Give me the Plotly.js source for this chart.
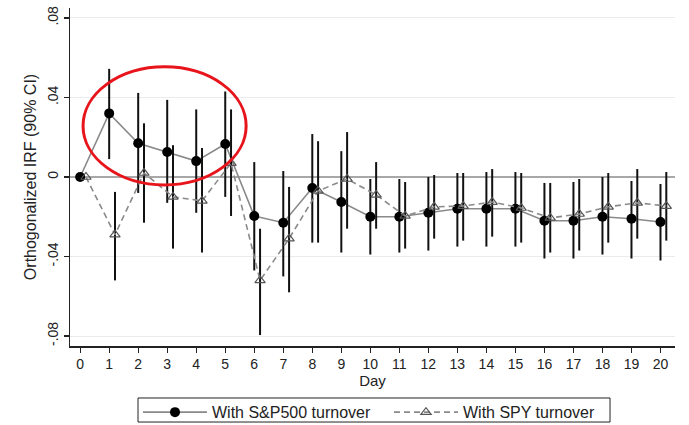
<!DOCTYPE html>
<html>
<head>
<meta charset="utf-8">
<script src="https://cdn.plot.ly/plotly-3.0.1.min.js"></script>
<style>
  html, body { margin: 0; padding: 0; background: #ffffff; }
  #chart { width: 689px; height: 425px; }
</style>
</head>
<body>
<div id="chart"></div>
<script>
// Impulse responses by day, with 90% confidence bands
const days = [0, 1, 2, 3, 4, 5, 6, 7, 8, 9, 10, 11, 12, 13, 14, 15, 16, 17, 18, 19, 20];

const spxIrf   = [0, 0.032, 0.017, 0.0126, 0.008, 0.0166, -0.0196, -0.023, -0.0055, -0.0126, -0.020, -0.020, -0.018, -0.016, -0.016, -0.016, -0.022, -0.022, -0.020, -0.021, -0.0226];
const spxUpper = [0, 0.0544, 0.0423, 0.0388, 0.034, 0.043, 0.0075, 0.003, 0.0216, 0.013, -0.001, -0.001, 0.000, 0.002, 0.0025, 0.0025, -0.003, -0.0025, 0.000, -0.002, -0.0035];
const spxLower = [0, 0.009, -0.008, -0.013, -0.018, -0.010, -0.047, -0.050, -0.033, -0.038, -0.039, -0.038, -0.037, -0.035, -0.035, -0.035, -0.041, -0.041, -0.039, -0.041, -0.042];

const spyIrf   = [0, -0.029, 0.002, -0.010, -0.012, 0.007, -0.052, -0.031, -0.007, -0.001, -0.009, -0.0196, -0.015, -0.0146, -0.0126, -0.0156, -0.0206, -0.0186, -0.015, -0.013, -0.0146];
const spyUpper = [0, -0.0075, 0.027, 0.016, 0.0146, 0.034, -0.026, -0.005, 0.018, 0.0226, 0.0075, -0.0025, 0.001, 0.002, 0.004, 0.002, -0.003, -0.001, 0.002, 0.004, 0.0025];
const spyLower = [0, -0.052, -0.023, -0.036, -0.038, -0.0196, -0.0795, -0.058, -0.033, -0.026, -0.026, -0.036, -0.031, -0.032, -0.030, -0.033, -0.038, -0.037, -0.033, -0.031, -0.032];

const seriesNames = ['With S&P500 turnover', 'With SPY turnover'];
const yTickVals = [-0.08, -0.04, 0, 0.04, 0.08];
const yTickText = ['-.08', '-.04', '0', '.04', '.08'];

// the SPY estimates sit just to the right of each day so the bands don't overlap
const spyShift = 0.2;
const spyDays = days.map(d => d + spyShift);

const upDiff = (est, up) => est.map((v, i) => up[i] - v);
const lowDiff = (est, lo) => est.map((v, i) => v - lo[i]);

const font = 'Liberation Sans, Arial, sans-serif';

const spxTrace = {
  x: days, y: spxIrf, name: seriesNames[0], type: 'scatter', mode: 'lines+markers',
  line: { color: '#8a8a8a', width: 1.6 },
  marker: { symbol: 'circle', size: 10, color: '#000000' },
  error_y: {
    type: 'data', symmetric: false,
    array: upDiff(spxIrf, spxUpper), arrayminus: lowDiff(spxIrf, spxLower),
    color: '#111111', thickness: 2, width: 0
  }
};

const spyTrace = {
  x: spyDays, y: spyIrf, name: seriesNames[1], type: 'scatter', mode: 'lines+markers',
  line: { color: '#8a8a8a', width: 1.6, dash: '6px,4px' },
  marker: { symbol: 'triangle-up-open', size: 9, color: '#555555', line: { width: 1.2 } },
  error_y: {
    type: 'data', symmetric: false,
    array: upDiff(spyIrf, spyUpper), arrayminus: lowDiff(spyIrf, spyLower),
    color: '#111111', thickness: 2, width: 0
  }
};

const layout = {
  width: 689, height: 425,
  margin: { l: 70, r: 14, t: 8, b: 79, autoexpand: false },
  paper_bgcolor: '#ffffff', plot_bgcolor: '#ffffff',
  font: { family: font, size: 14, color: '#222222' },
  showlegend: true,
  xaxis: {
    range: [-0.35, 20.5],
    tickmode: 'array', tickvals: days, ticktext: days.map(String),
    ticks: 'outside', ticklen: 5, tickwidth: 1.2, tickcolor: '#222',
    showline: true, linecolor: '#222', linewidth: 1.5,
    showgrid: false, zeroline: false,
    tickfont: { size: 14, color: '#222' },
    title: { text: 'Day', font: { size: 15, color: '#222' }, standoff: 2 }
  },
  yaxis: {
    range: [-0.085, 0.085],
    tickmode: 'array', tickvals: yTickVals, ticktext: yTickText,
    tickangle: -90,
    ticks: 'outside', ticklen: 5, tickwidth: 1.2, tickcolor: '#222',
    showline: true, linecolor: '#222', linewidth: 1.5,
    showgrid: true, gridcolor: '#ebebeb', gridwidth: 1,
    zeroline: true, zerolinecolor: '#a8a8a8', zerolinewidth: 1.5,
    tickfont: { size: 14, color: '#222' },
    title: { text: 'Orthogonalized IRF (90% CI)', font: { size: 16, color: '#222' }, standoff: 4 }
  },
  legend: {
    orientation: 'h', xref: 'paper', x: 0.1124, xanchor: 'left',
    yref: 'container', y: 0.07, yanchor: 'top',
    borderwidth: 0, bgcolor: 'rgba(0,0,0,0)',
    itemwidth: 64, entrywidth: 172,
    font: { size: 16, color: '#222' }
  },
  shapes: [
    {
      // highlight around the first trading week
      type: 'circle', xref: 'x', yref: 'y',
      x0: 0.1, x1: 5.72, y0: -0.004, y1: 0.0554,
      line: { color: '#e8141b', width: 3 }
    },
    {
      // frame around the legend
      type: 'rect', xref: 'paper', yref: 'paper',
      x0: 0.1124, x1: 0.8926, y0: -0.2249, y1: -0.1538,
      line: { color: '#222', width: 1 }, fillcolor: 'rgba(0,0,0,0)'
    }
  ]
};

Plotly.newPlot('chart', [spxTrace, spyTrace], layout, { displayModeBar: false, staticPlot: true });
</script>
</body>
</html>
